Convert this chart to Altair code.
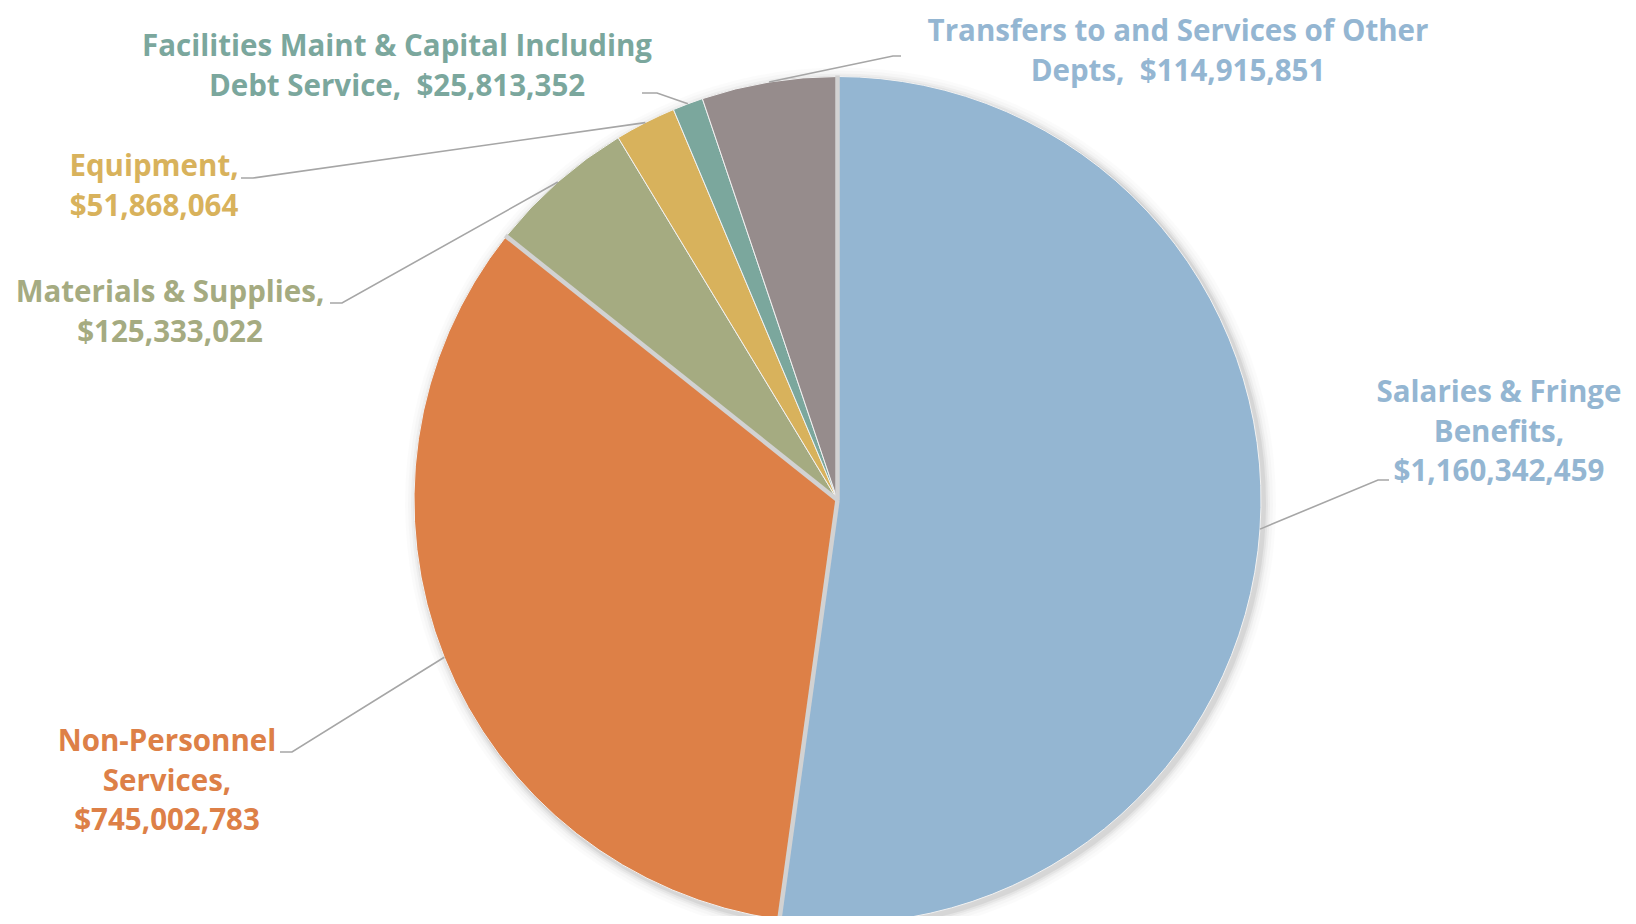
import math
import altair as alt
import pandas as pd

# ---- data ----
categories = [
    "Salaries & Fringe Benefits",
    "Non-Personnel Services",
    "Materials & Supplies",
    "Equipment",
    "Facilities Maint & Capital Including Debt Service",
    "Transfers to and Services of Other Depts",
]
amounts = [1160342459, 745002783, 125333022, 51868064, 25813352, 114915851]
label_prefix = [
    "Salaries & Fringe\nBenefits,\n",
    "Non-Personnel\nServices,\n",
    "Materials & Supplies,\n",
    "Equipment,\n",
    "Facilities Maint & Capital Including\nDebt Service,\u00a0 ",
    "Transfers to and Services of Other\nDepts,\u00a0 ",
]

# ---- styles / layout ----
fills = ["#94B6D2", "#DD8047", "#A5AB81", "#D8B25C", "#7BA79D", "#968C8C"]
text_colors = ["#94B6D2", "#DD8047", "#A5AB81", "#D8B25C", "#7BA79D", "#94B6D2"]
W, H = 1620, 908
CX, CY, R = 829.5, 492, 423.5
# centre of the first line of each label
label_pos = [(1491, 385), (159, 734), (162, 285), (146, 159), (389, 39), (1170, 24)]
elbows = [(1370, 472), (284, 744), (334, 295), (245, 170), (649, 85), (885, 48)]
ends = [(1381, 472), (272, 744), (322, 295), (233, 170), (634, 85), (893, 48)]

total = sum(amounts)
df = pd.DataFrame({"cat": categories, "amount": amounts, "idx": list(range(len(amounts)))})

# geometry derived from the data
cum = 0.0
lead_rows, div_rows = [], []
bounds = []
for i, a in enumerate(amounts):
    start = cum / total * 2 * math.pi
    cum += a
    end = cum / total * 2 * math.pi
    bounds.append(start)
    mid = (start + end) / 2
    px, py = CX + R * math.sin(mid), CY - R * math.cos(mid)
    for k, (x, y) in enumerate([(px, py), elbows[i], ends[i]]):
        lead_rows.append({"cat": categories[i], "k": k, "x": x, "y": y})
leads = pd.DataFrame(lead_rows)

# thick grey dividers bounding the two big slices
for j, ang in enumerate([bounds[0], bounds[1], bounds[2]]):
    div_rows.append({"d": j, "k": 0, "x": CX, "y": CY})
    div_rows.append({"d": j, "k": 1, "x": CX + (R + 1) * math.sin(ang), "y": CY - (R + 1) * math.cos(ang)})
divs = pd.DataFrame(div_rows)

labels = pd.DataFrame({
    "cat": categories,
    "text": [p + f"${a:,}" for p, a in zip(label_prefix, amounts)],
    "x": [p[0] for p in label_pos],
    "y": [p[1] for p in label_pos],
})

xs = alt.Scale(domain=[0, W], nice=False, zero=False)
ys = alt.Scale(domain=[0, H], nice=False, zero=False, reverse=True)

one = pd.DataFrame({"a": [0]})
shadows = []
for k, op in [(12, 0.015), (9, 0.02), (6, 0.03), (4, 0.04), (2, 0.06)]:
    shadows.append(
        alt.Chart(one).mark_arc(theta=0, theta2=2 * math.pi, radius=R + k, color="#000000", opacity=op)
        .encode(x=alt.value(CX + 3), y=alt.value(CY + 3))
    )

arc = alt.Chart(df).mark_arc(radius=R, stroke="#F2F2F2", strokeWidth=1).encode(
    theta=alt.Theta("amount:Q", stack=True),
    order=alt.Order("idx:Q"),
    color=alt.Color("cat:N", scale=alt.Scale(domain=categories, range=fills), legend=None),
    x=alt.value(CX),
    y=alt.value(CY),
)

dividers = alt.Chart(divs).mark_line(color="#D2D2D2", strokeWidth=4.5).encode(
    x=alt.X("x:Q", scale=xs, axis=None),
    y=alt.Y("y:Q", scale=ys, axis=None),
    detail="d:N",
    order="k:Q",
)

leader = alt.Chart(leads).mark_line(color="#A6A6A6", strokeWidth=1.6).encode(
    x=alt.X("x:Q", scale=xs, axis=None),
    y=alt.Y("y:Q", scale=ys, axis=None),
    detail="cat:N",
    order="k:Q",
)

text = alt.Chart(labels).mark_text(
    font="Open Sans", fontSize=29.5, fontWeight="bold", lineBreak="\n", lineHeight=39.5,
    align="center", baseline="middle",
).encode(
    x=alt.X("x:Q", scale=xs, axis=None),
    y=alt.Y("y:Q", scale=ys, axis=None),
    text="text:N",
    color=alt.Color("cat:N", scale=alt.Scale(domain=categories, range=text_colors), legend=None),
)

chart = alt.layer(*shadows, arc, dividers, leader, text).resolve_scale(color="independent").properties(
    width=W, height=H, padding=0, background="#FFFFFF",
    autosize=alt.AutoSizeParams(type="none"),
).configure_view(stroke=None, strokeWidth=0)

chart.save("out.html", embed_options={"renderer": "svg", "actions": False})
